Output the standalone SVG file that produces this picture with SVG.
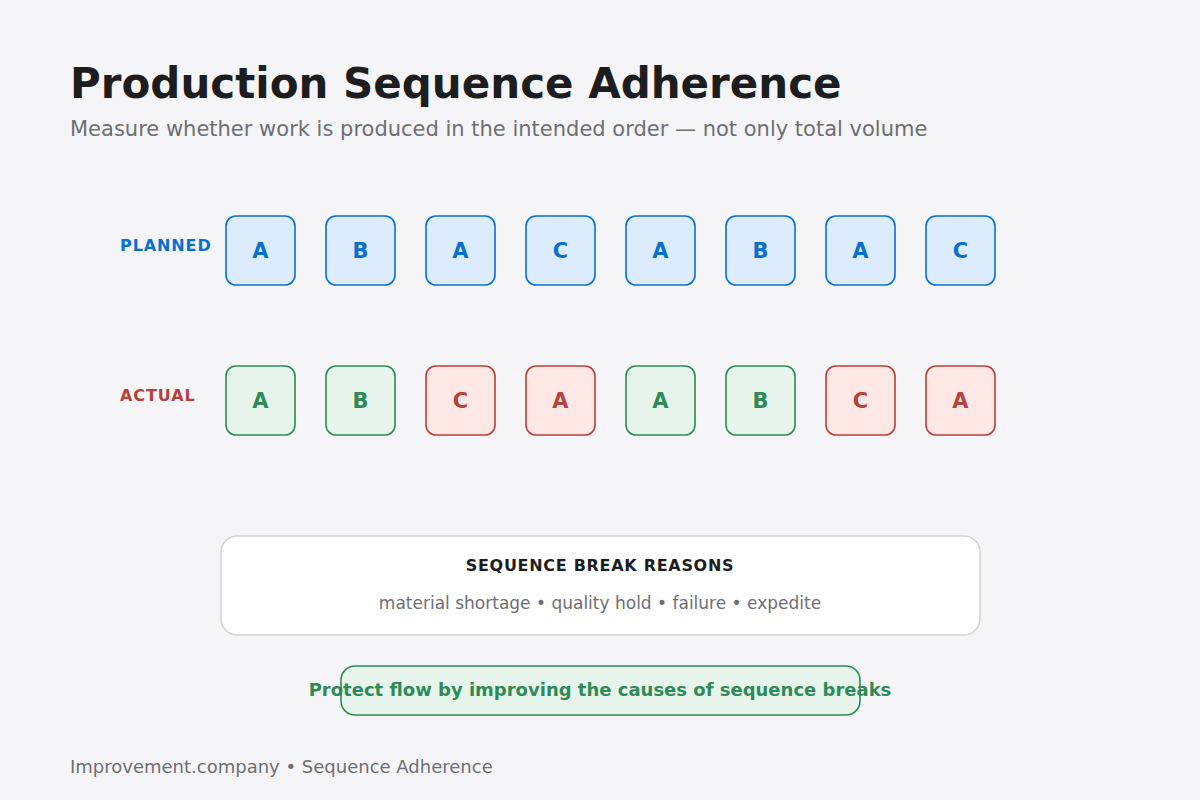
<svg xmlns="http://www.w3.org/2000/svg" width="1200" height="800" viewBox="0 0 1200 800">
<style>
text{font-family:"DejaVu Sans","Noto Sans",sans-serif}
.title{font-size:42px;font-weight:bold;fill:#1d1d1f}
.sub{font-size:21px;fill:#6e6e73}
.rowlbl{font-size:16px;font-weight:bold;letter-spacing:0.9px}
.plan rect{fill:#dcecfc;stroke:#0a6fd0;stroke-width:1.6}
.plan text{fill:#0a6fd0}
.ok rect{fill:#e7f4ec;stroke:#2e8b57;stroke-width:1.6}
.ok text{fill:#2e8b57}
.bad rect{fill:#fde8e6;stroke:#b8403a;stroke-width:1.6}
.bad text{fill:#b8403a}
.cell text{font-size:21px;font-weight:bold;text-anchor:middle}
.foot{font-size:18px;fill:#6e6e73}
</style>
<rect width="1200" height="800" fill="#f5f5f7"/>
<text class="title" x="70" y="98">Production Sequence Adherence</text>
<text class="sub" x="70" y="136">Measure whether work is produced in the intended order — not only total volume</text>
<text class="rowlbl" x="120" y="251" fill="#0a6fd0">PLANNED</text>
<text class="rowlbl" x="120" y="401" fill="#b8403a">ACTUAL</text>
<g id="planned">
<g id="p1" class="cell plan"><rect x="226" y="216" width="69" height="69" rx="10"/><text x="260.5" y="258">A</text></g>
<g id="p2" class="cell plan"><rect x="326" y="216" width="69" height="69" rx="10"/><text x="360.5" y="258">B</text></g>
<g id="p3" class="cell plan"><rect x="426" y="216" width="69" height="69" rx="10"/><text x="460.5" y="258">A</text></g>
<g id="p4" class="cell plan"><rect x="526" y="216" width="69" height="69" rx="10"/><text x="560.5" y="258">C</text></g>
<g id="p5" class="cell plan"><rect x="626" y="216" width="69" height="69" rx="10"/><text x="660.5" y="258">A</text></g>
<g id="p6" class="cell plan"><rect x="726" y="216" width="69" height="69" rx="10"/><text x="760.5" y="258">B</text></g>
<g id="p7" class="cell plan"><rect x="826" y="216" width="69" height="69" rx="10"/><text x="860.5" y="258">A</text></g>
<g id="p8" class="cell plan"><rect x="926" y="216" width="69" height="69" rx="10"/><text x="960.5" y="258">C</text></g>
</g>
<g id="actual">
<g id="a1" class="cell ok"><rect x="226" y="366" width="69" height="69" rx="10"/><text x="260.5" y="408">A</text></g>
<g id="a2" class="cell ok"><rect x="326" y="366" width="69" height="69" rx="10"/><text x="360.5" y="408">B</text></g>
<g id="a3" class="cell bad"><rect x="426" y="366" width="69" height="69" rx="10"/><text x="460.5" y="408">C</text></g>
<g id="a4" class="cell bad"><rect x="526" y="366" width="69" height="69" rx="10"/><text x="560.5" y="408">A</text></g>
<g id="a5" class="cell ok"><rect x="626" y="366" width="69" height="69" rx="10"/><text x="660.5" y="408">A</text></g>
<g id="a6" class="cell ok"><rect x="726" y="366" width="69" height="69" rx="10"/><text x="760.5" y="408">B</text></g>
<g id="a7" class="cell bad"><rect x="826" y="366" width="69" height="69" rx="10"/><text x="860.5" y="408">C</text></g>
<g id="a8" class="cell bad"><rect x="926" y="366" width="69" height="69" rx="10"/><text x="960.5" y="408">A</text></g>
</g>
<g id="connectors"/>
<g id="reasons">
<rect x="221" y="536" width="759" height="99" rx="16" fill="#ffffff" stroke="#d2d2d7" stroke-width="1.5"/>
<text x="600" y="571" text-anchor="middle" font-size="16" font-weight="bold" letter-spacing="0.7" fill="#1d1d1f">SEQUENCE BREAK REASONS</text>
<text x="600" y="609" text-anchor="middle" font-size="17" fill="#6e6e73">material shortage • quality hold • failure • expedite</text>
</g>
<g id="callout">
<rect x="341" y="666" width="519" height="49" rx="14" fill="#e7f4ec" stroke="#2e8b57" stroke-width="1.6"/>
<text x="600" y="696" text-anchor="middle" font-size="18" font-weight="bold" fill="#2e8b57">Protect flow by improving the causes of sequence breaks</text>
</g>
<text class="foot" x="70" y="773">Improvement.company • Sequence Adherence</text>
</svg>
